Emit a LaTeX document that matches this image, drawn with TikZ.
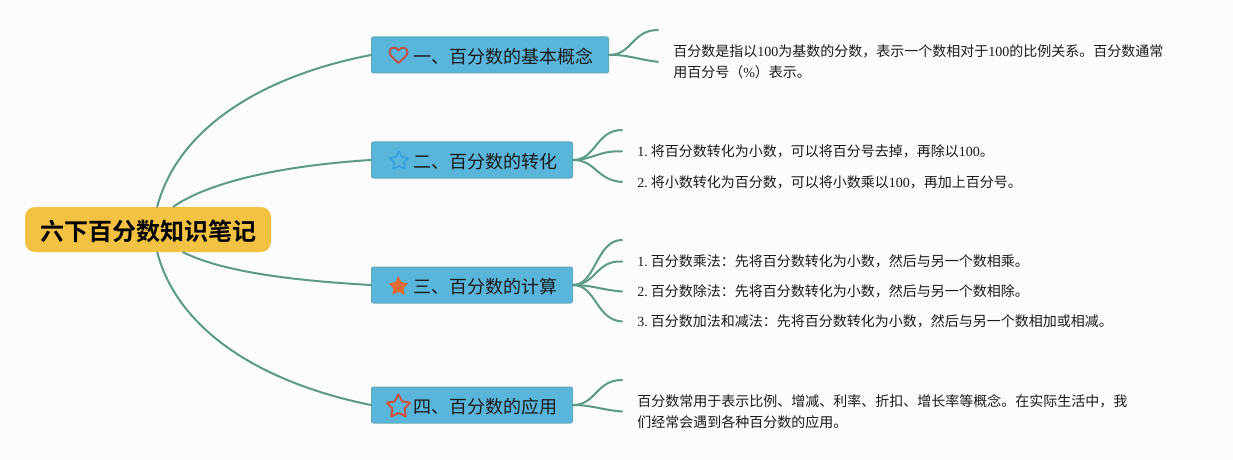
\documentclass[tikz,border=0pt]{standalone}
\usepackage{fontspec}
\setmainfont{Liberation Serif}
\newfontfamily\cjk{Noto Sans CJK SC}[BoldFont={Noto Sans CJK SC Bold}]
\usetikzlibrary{shapes.geometric}
\newlength{\pxu}\setlength{\pxu}{0.75pt}
\definecolor{bgc}{HTML}{FCFCFD}
\definecolor{rootc}{HTML}{F4C243}
\definecolor{boxc}{HTML}{5AB5DA}
\definecolor{boxb}{HTML}{62A9B5}
\definecolor{linec}{HTML}{5C9A86}
\definecolor{heartc}{RGB}{190,80,72}
\definecolor{blues}{RGB}{50,160,225}
\definecolor{orangs}{RGB}{226,106,52}
\definecolor{reds}{RGB}{205,82,62}
\definecolor{txtc}{HTML}{1A1A1A}
\newcommand{\lat}[1]{{\rmfamily #1}}
\newcommand{\num}[1]{{\rmfamily #1.\hspace{3\pxu}}}
\newcommand{\tp}[1]{\hspace*{42\pxu}\raisebox{-1.3\pxu}[\height][\depth]{#1}\hspace*{15\pxu}}
\tikzset{
  x=0.75pt,y=-0.75pt,
  rootnode/.style={fill=rootc,rounded corners=7.5pt,minimum width=246\pxu,minimum height=45\pxu,inner sep=0pt,font=\cjk\bfseries\fontsize{18pt}{22pt}\selectfont},
  topicnode/.style={fill=boxc,draw=boxb,line width=0.75pt,rounded corners=1.5pt,minimum height=36\pxu,inner xsep=0pt,inner ysep=0pt,anchor=west,text=txtc,font=\cjk\fontsize{13.5pt}{16pt}\selectfont},
  leafnode/.style={anchor=west,inner xsep=15\pxu,inner ysep=0pt,align=left,text=txtc,font=\cjk\fontsize{10.5pt}{15.75pt}\selectfont},
  conn/.style={draw=linec,line width=1.5pt,line cap=round},
  icon/.style={star,star points=5,star point ratio=2.0,inner sep=0pt,rounded corners=0.6pt},
}
\begin{document}
\begin{tikzpicture}
\path[use as bounding box,fill=bgc] (0,0) rectangle (1233,460);
% nodes
\node[rootnode] (root) at (148,229.5) {\hspace*{1\pxu}\raisebox{-2\pxu}[\height][\depth]{六下百分数知识笔记}};
\node[topicnode] (t1) at (371,55) {\tp{一、百分数的基本概念}};
\node[topicnode] (t2) at (371,160) {\tp{二、百分数的转化}};
\node[topicnode] (t3) at (371,285) {\tp{三、百分数的计算}};
\node[topicnode] (t4) at (371,405) {\tp{四、百分数的应用}};
% icons
\path[draw=heartc,line width=1.5pt,line join=round]
  (398.5,63) .. controls (392.5,57.5) and (389.5,55) .. (389.5,52) .. controls (389.5,46.5) and (396.5,46.5) .. (398.5,50.5)
  .. controls (400.5,46.5) and (407.5,46.5) .. (407.5,52) .. controls (407.5,55) and (404.5,57.5) .. (398.5,63) -- cycle;
\node[icon,draw=blues,line width=1.2pt,minimum size=20\pxu] (s2) at (399,161) {};
\node[icon,fill=orangs,minimum size=21\pxu] (s3) at (398.5,286.5) {};
\node[icon,draw=reds,line width=1.5pt,minimum size=25\pxu] (s4) at (398.5,406.5) {};
% leaves
\coordinate (e1) at (658,30);
\node[leafnode] (l1) at (658,61.8) {百分数是指以\lat{100}为基数的分数，表示一个数相对于\lat{100}的比例关系。百分数通常\\用百分号（\lat{\%}）表示。};
\coordinate (e2) at (622,130);
\node[leafnode] (l21) at (622,151.5) {\num{1}将百分数转化为小数，可以将百分号去掉，再除以\lat{100}。};
\node[leafnode] (l22) at (622,182) {\num{2}将小数转化为百分数，可以将小数乘以\lat{100}，再加上百分号。};
\coordinate (e3) at (622,240);
\node[leafnode] (l31) at (622,261.5) {\num{1}百分数乘法：先将百分数转化为小数，然后与另一个数相乘。};
\node[leafnode] (l32) at (622,291.5) {\num{2}百分数除法：先将百分数转化为小数，然后与另一个数相除。};
\node[leafnode] (l33) at (622,321.5) {\num{3}百分数加法和减法：先将百分数转化为小数，然后与另一个数相加或相减。};
\coordinate (e4) at (622,380);
\node[leafnode] (l4) at (622,411.5) {百分数常用于表示比例、增减、利率、折扣、增长率等概念。在实际生活中，我\\们经常会遇到各种百分数的应用。};
% root connectors
\draw[conn] (root.68) .. controls (178,128) and (262,76) .. (t1.west);
\draw[conn] (root.42) .. controls (212,180) and (290,165) .. (t2.west);
\draw[conn] (root.-33) .. controls (225,273) and (300,281) .. (t3.west);
\draw[conn] (root.-68) .. controls (178,331) and (262,383) .. (t4.west);
% topic connectors
\draw[conn] (t1.east) .. controls (632,55) and (632,30) .. (e1);
\draw[conn] (t1.east) .. controls (625,54) and (640,60) .. (l1.west);
\draw[conn] (t2.east) .. controls (596,160) and (596,130) .. (e2);
\draw[conn] (t2.east) .. controls (592,160) and (600,150) .. (l21.west);
\draw[conn] (t2.east) .. controls (596,160) and (596,180) .. (l22.west);
\draw[conn] (t3.east) .. controls (596,285) and (596,240) .. (e3);
\draw[conn] (t3.east) .. controls (596,285) and (596,260) .. (l31.west);
\draw[conn] (t3.east) .. controls (592,285) and (602,290) .. (l32.west);
\draw[conn] (t3.east) .. controls (596,285) and (596,320) .. (l33.west);
\draw[conn] (t4.east) .. controls (596,405) and (596,380) .. (e4);
\draw[conn] (t4.east) .. controls (592,405) and (602,410) .. (l4.west);
\end{tikzpicture}
\end{document}
